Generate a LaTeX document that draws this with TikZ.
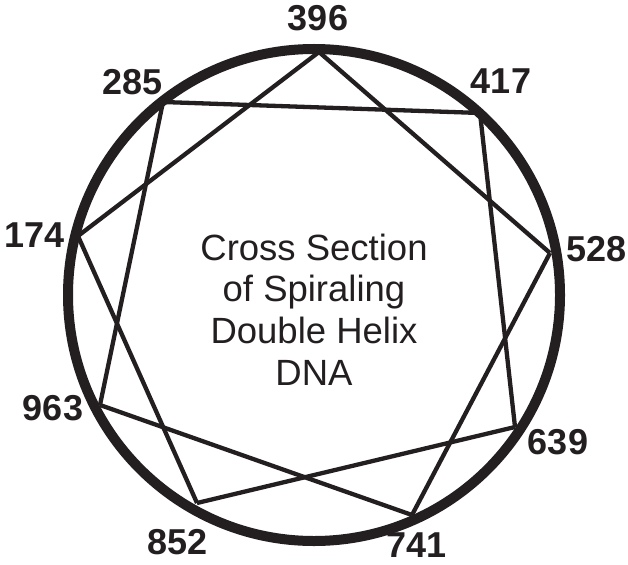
\documentclass[tikz,border=0pt]{standalone}
\usepackage{fontspec}
\setmainfont{Liberation Sans}
\definecolor{ink}{HTML}{231F20}
\begin{document}
\begin{tikzpicture}[x=1pt,y=-1pt,
  lbl/.style={font=\fontsize{36}{36}\selectfont\bfseries, inner sep=0pt, text=ink},
  title/.style={font=\fontsize{36.5}{41.7}\selectfont, inner sep=0pt, text=ink, align=center},
  strand/.style={draw=ink, line width=4.3pt},
  ring/.style={draw=ink, line width=10pt},
]
\useasboundingbox (0,0) rectangle (628,564);
\coordinate (c) at (314,295);
\coordinate (v396) at (319,52);
\coordinate (v417) at (480,113);
\coordinate (v528) at (550,253);
\coordinate (v639) at (515,427);
\coordinate (v741) at (412,515);
\coordinate (v852) at (197,503);
\coordinate (v963) at (100,405);
\coordinate (v174) at (78,236);
\coordinate (v285) at (163,102);
% strands ({9/2} star)
\draw[strand] (v396) -- (v528);
\draw[strand] (v528) -- (v741);
\draw[strand] (v741) -- (v963);
\draw[strand] (v963) -- (v285);
\draw[strand] (v285) -- (v417);
\draw[strand] (v417) -- (v639);
\draw[strand] (v639) -- (v852);
\draw[strand] (v852) -- (v174);
\draw[strand] (v174) -- (v396);
% outer ring
\draw[ring] (c) circle (246pt);
% labels
\node[lbl] (l396) at (318,18.5) {396};
\node[lbl] (l417) at (501,81) {417};
\node[lbl] (l528) at (596.5,249) {528};
\node[lbl] (l639) at (558,442.5) {639};
\node[lbl] (l741) at (416.5,545) {741};
\node[lbl] (l852) at (177.5,542.5) {852};
\node[lbl] (l963) at (53,408) {963};
\node[lbl] (l174) at (35,235) {174};
\node[lbl] (l285) at (132.5,82) {285};
\node[title] (ttl) at (314,309.5) {Cross Section\\of Spiraling\\Double Helix\\DNA};
\end{tikzpicture}
\end{document}
